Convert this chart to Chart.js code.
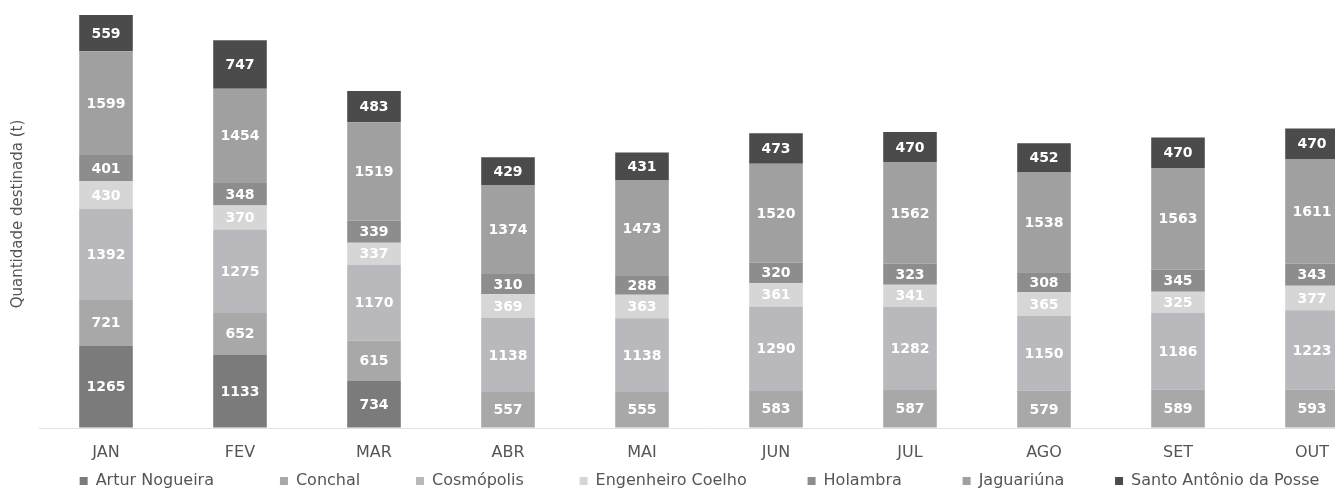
<!DOCTYPE html>
<html><head><meta charset="utf-8">
<script src="https://cdn.jsdelivr.net/npm/chart.js@4"></script>
<style>
html,body{margin:0;padding:0;background:#fff;overflow:hidden}
#wrap{width:1335px;height:492px;overflow:hidden;position:relative;background:#fff}
#c{position:absolute;left:0;top:0}
</style></head><body>
<div id="wrap"><canvas id="c" width="1379" height="492" style="width:1379px;height:492px"></canvas></div>
<script>
// ---- data ----
const months = ['JAN','FEV','MAR','ABR','MAI','JUN','JUL','AGO','SET','OUT'];
const arturNogueira    = [1265,1133,734,null,null,null,null,null,null,null];
const conchal          = [721,652,615,557,555,583,587,579,589,593];
const cosmopolis       = [1392,1275,1170,1138,1138,1290,1282,1150,1186,1223];
const engenheiroCoelho = [430,370,337,369,363,361,341,365,325,377];
const holambra         = [401,348,339,310,288,320,323,308,345,343];
const jaguariuna       = [1599,1454,1519,1374,1473,1520,1562,1538,1563,1611];
const santoAntonio     = [559,747,483,429,431,473,470,452,470,470];
const seriesNames = ['Artur Nogueira','Conchal','Cosmópolis','Engenheiro Coelho','Holambra','Jaguariúna','Santo Antônio da Posse'];
const yTitle = 'Quantidade destinada (t)';

// ---- styles ----
const seriesColors = ['#7b7b7b','#a8a8a8','#b8b8bd','#d6d6d6','#8d8d8d','#a0a0a0','#4b4b4b'];
const legendGaps = [199,138,162,230,156,150];
const LEG_FONT = 16, LEG_BOX = 8, LEG_PAD = 10;

const seriesData = [arturNogueira, conchal, cosmopolis, engenheiroCoelho, holambra, jaguariuna, santoAntonio];

const measure = document.createElement('canvas').getContext('2d');
measure.font = LEG_FONT + 'px "DejaVu Sans"';
function padText(text, gap){
  const target = gap - LEG_PAD - LEG_BOX - LEG_FONT/2;
  let t = text;
  const sw = measure.measureText(' ').width;
  while (measure.measureText(t).width + sw/2 < target) t += ' ';
  return t;
}

const valueLabels = {
  id: 'valueLabels',
  afterDatasetsDraw(chart){
    const ctx = chart.ctx;
    ctx.save();
    ctx.font = 'bold 14px "DejaVu Sans"';
    ctx.fillStyle = '#ffffff';
    ctx.textAlign = 'center';
    ctx.textBaseline = 'middle';
    chart.data.datasets.forEach((ds, di) => {
      const meta = chart.getDatasetMeta(di);
      meta.data.forEach((bar, i) => {
        const v = ds.data[i];
        if (v == null) return;
        const p = bar.getProps(['x','y','base'], true);
        ctx.fillText(String(v), p.x, (p.y + p.base) / 2 + 1);
      });
    });
    ctx.restore();
  }
};

new Chart(document.getElementById('c'), {
  type: 'bar',
  data: {
    labels: months,
    datasets: seriesNames.map((name, i) => ({
      label: name,
      data: seriesData[i],
      backgroundColor: seriesColors[i],
      borderWidth: 0,
      categoryPercentage: 1,
      barPercentage: 0.4
    }))
  },
  options: {
    responsive: false,
    animation: false,
    layout: { padding: { left: 20, right: 0, top: 0, bottom: -7 } },
    plugins: {
      tooltip: { enabled: false },
      legend: {
        position: 'bottom',
        labels: {
          boxWidth: LEG_BOX, boxHeight: LEG_BOX, padding: LEG_PAD,
          color: '#555555',
          font: { family: 'DejaVu Sans', size: LEG_FONT },
          generateLabels(chart){
            const items = Chart.defaults.plugins.legend.labels.generateLabels(chart);
            items.forEach((it, i) => {
              it.lineWidth = 0;
              if (i < legendGaps.length) it.text = padText(it.text, legendGaps[i]);
            });
            return items;
          }
        }
      }
    },
    scales: {
      x: {
        stacked: true,
        grid: { display: false, drawTicks: false },
        border: { display: true, color: '#e2e2e2' },
        ticks: { color: '#555555', padding: 15, font: { family: 'DejaVu Sans', size: 16 } },
        afterFit(s){ s.height = 35; }
      },
      y: {
        stacked: true,
        min: 0, max: 6600,
        grid: {
          drawTicks: false,
          color: (c) => (c.tick && c.tick.value % 1000 === 0 && c.tick.value > 0) ? '#ececec' : 'rgba(0,0,0,0)'
        },
        border: { display: false },
        ticks: { display: false, stepSize: 1000 },
        title: {
          display: true, text: yTitle, color: '#555555',
          font: { family: 'DejaVu Sans', size: 15 },
          padding: { top: -11, bottom: 0 }
        },
        afterFit(s){ s.width = 19; }
      }
    }
  },
  plugins: [valueLabels]
});
</script>
</body></html>
